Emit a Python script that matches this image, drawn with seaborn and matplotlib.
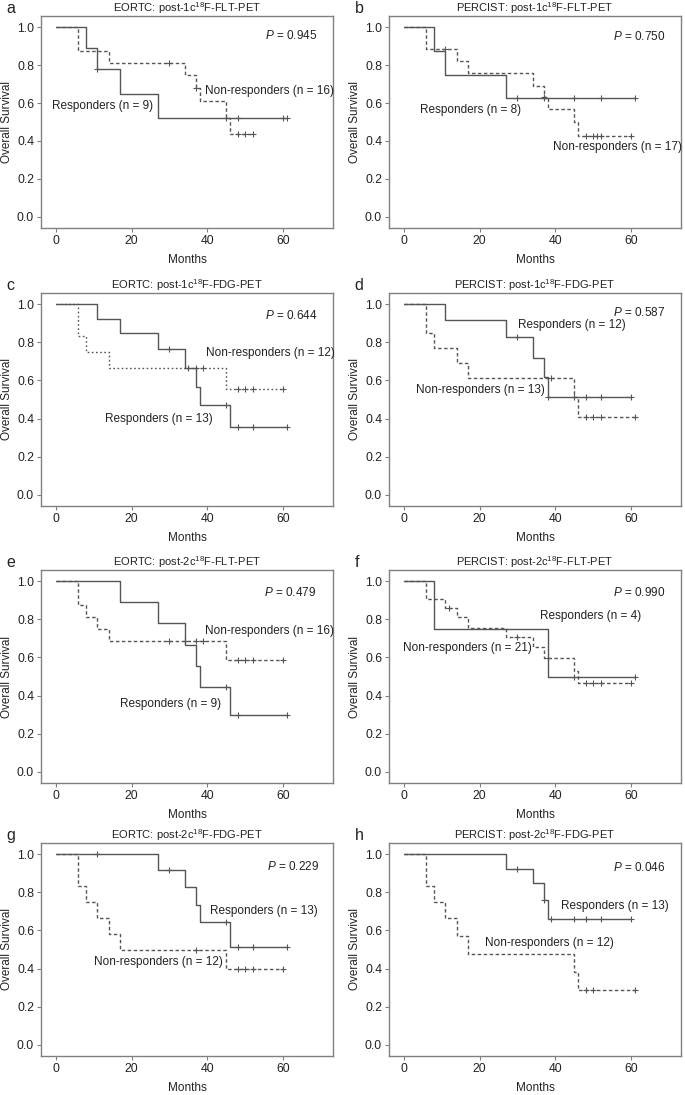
import numpy as np
import seaborn as sns
from matplotlib import pyplot as plt

# Kaplan-Meier step curves: step times, survival after each step, censor times
a_resp_t = [0, 8, 11, 17, 27, 61]
a_resp_s = [1.0, 0.889, 0.778, 0.648, 0.519, 0.519]
a_resp_c = [11, 45, 48, 60, 61]
a_non_t = [0, 6, 14, 34, 37, 38, 45, 46, 52]
a_non_s = [1.0, 0.875, 0.8125, 0.745, 0.677, 0.609, 0.52, 0.435, 0.435]
a_non_c = [30, 37, 48, 50, 52]

b_resp_t = [0, 8, 11, 27, 61]
b_resp_s = [1.0, 0.875, 0.75, 0.625, 0.625]
b_resp_c = [30, 37, 45, 52, 61]
b_non_t = [0, 6, 14, 17, 34, 37, 38, 45, 46, 60]
b_non_s = [1.0, 0.882, 0.82, 0.757, 0.69, 0.63, 0.568, 0.50, 0.426, 0.426]
b_non_c = [11, 37, 48, 50, 51, 52, 60]

c_resp_t = [0, 11, 17, 27, 34, 37, 38, 46, 61]
c_resp_s = [1.0, 0.923, 0.846, 0.762, 0.667, 0.567, 0.472, 0.354, 0.354]
c_resp_c = [30, 45, 48, 52, 61]
c_non_t = [0, 6, 8, 14, 45, 60]
c_non_s = [1.0, 0.833, 0.75, 0.667, 0.556, 0.556]
c_non_c = [35, 37, 39, 48, 50, 52, 60]

d_resp_t = [0, 11, 27, 34, 37, 38, 60]
d_resp_s = [1.0, 0.917, 0.825, 0.72, 0.617, 0.514, 0.514]
d_resp_c = [30, 38, 45, 48, 52, 60]
d_non_t = [0, 6, 8, 14, 17, 45, 46, 61]
d_non_s = [1.0, 0.846, 0.769, 0.692, 0.615, 0.513, 0.41, 0.41]
d_non_c = [39, 48, 50, 52, 61]

e_resp_t = [0, 17, 27, 34, 37, 38, 46, 61]
e_resp_s = [1.0, 0.889, 0.778, 0.667, 0.556, 0.444, 0.296, 0.296]
e_resp_c = [45, 48, 61]
e_non_t = [0, 6, 8, 11, 14, 45, 60]
e_non_s = [1.0, 0.875, 0.8125, 0.75, 0.6875, 0.586, 0.586]
e_non_c = [30, 34, 37, 39, 48, 50, 52, 60]

f_resp_t = [0, 8, 38, 61]
f_resp_s = [1.0, 0.75, 0.5, 0.5]
f_resp_c = [45, 61]
f_non_t = [0, 6, 11, 14, 17, 27, 34, 37, 45, 46, 60]
f_non_s = [1.0, 0.905, 0.857, 0.81, 0.755, 0.705, 0.654, 0.597, 0.53, 0.465, 0.465]
f_non_c = [12, 30, 38, 48, 50, 52, 60]

g_resp_t = [0, 27, 34, 37, 38, 46, 61]
g_resp_s = [1.0, 0.917, 0.825, 0.733, 0.642, 0.513, 0.513]
g_resp_c = [11, 30, 45, 48, 52, 61]
g_non_t = [0, 6, 8, 11, 14, 17, 45, 60]
g_non_s = [1.0, 0.833, 0.75, 0.667, 0.583, 0.50, 0.40, 0.40]
g_non_c = [37, 48, 50, 52, 60]

h_resp_t = [0, 27, 34, 37, 38, 60]
h_resp_s = [1.0, 0.923, 0.846, 0.761, 0.661, 0.661]
h_resp_c = [30, 37, 39, 45, 48, 52, 60]
h_non_t = [0, 6, 8, 11, 14, 17, 45, 46, 61]
h_non_s = [1.0, 0.833, 0.75, 0.667, 0.571, 0.476, 0.381, 0.286, 0.286]
h_non_c = [48, 50, 61]

letters = ["a", "b", "c", "d", "e", "f", "g", "h"]
titles = [
    r"EORTC: post-1c$^{18}$F-FLT-PET",
    r"PERCIST: post-1c$^{18}$F-FLT-PET",
    r"EORTC: post-1c$^{18}$F-FDG-PET",
    r"PERCIST: post-1c$^{18}$F-FDG-PET",
    r"EORTC: post-2c$^{18}$F-FLT-PET",
    r"PERCIST: post-2c$^{18}$F-FLT-PET",
    r"EORTC: post-2c$^{18}$F-FDG-PET",
    r"PERCIST: post-2c$^{18}$F-FDG-PET",
]
p_values = ["0.945", "0.750", "0.644", "0.587", "0.479", "0.990", "0.229", "0.046"]
resp_labels = ["Responders (n = 9)", "Responders (n = 8)", "Responders (n = 13)", "Responders (n = 12)",
               "Responders (n = 9)", "Responders (n = 4)", "Responders (n = 13)", "Responders (n = 13)"]
non_labels = ["Non-responders (n = 16)", "Non-responders (n = 17)", "Non-responders (n = 12)",
              "Non-responders (n = 13)", "Non-responders (n = 16)", "Non-responders (n = 21)",
              "Non-responders (n = 12)", "Non-responders (n = 12)"]

curves = [
    (a_resp_t, a_resp_s, a_resp_c, a_non_t, a_non_s, a_non_c),
    (b_resp_t, b_resp_s, b_resp_c, b_non_t, b_non_s, b_non_c),
    (c_resp_t, c_resp_s, c_resp_c, c_non_t, c_non_s, c_non_c),
    (d_resp_t, d_resp_s, d_resp_c, d_non_t, d_non_s, d_non_c),
    (e_resp_t, e_resp_s, e_resp_c, e_non_t, e_non_s, e_non_c),
    (f_resp_t, f_resp_s, f_resp_c, f_non_t, f_non_s, f_non_c),
    (g_resp_t, g_resp_s, g_resp_c, g_non_t, g_non_s, g_non_c),
    (h_resp_t, h_resp_s, h_resp_c, h_non_t, h_non_s, h_non_c),
]

# label placement (data coords): responders label, non-responders label (left x, centre y)
resp_pos = [(-0.9, 0.586), (4.4, 0.564), (13.0, 0.40), (30.1, 0.89),
            (16.9, 0.358), (36.1, 0.819), (40.8, 0.703), (41.4, 0.728)]
non_pos = [(39.3, 0.661), (39.3, 0.368), (39.7, 0.742), (3.1, 0.549),
           (39.3, 0.74), (-0.2, 0.647), (10.1, 0.436), (21.5, 0.532)]
p_pos = [(69, 0.955), (69, 0.951), (69, 0.94), (69, 0.956),
         (68.8, 0.942), (69, 0.939), (69.5, 0.934), (69, 0.93)]

sns.set_style("ticks")
plt.rcParams["font.family"] = ["Liberation Sans", "DejaVu Sans"]
plt.rcParams["mathtext.fontset"] = "custom"
plt.rcParams["mathtext.rm"] = "Liberation Sans"
plt.rcParams["mathtext.it"] = "Liberation Sans:italic"

line_col = "#555555"
edge_col = "#808080"
text_col = "#222222"
fs = 8.5

W, H = 685, 1095
fig = plt.figure(figsize=(W / 100, H / 100), dpi=100)
col_left = [41, 389]
row_top = [15, 293, 570, 843]
ax_w, ax_h = 292, 213


def censor_y(t, s, c):
    idx = np.searchsorted(np.asarray(t), np.asarray(c), side="right") - 1
    return np.asarray(s)[idx]


for i in range(8):
    r, cidx = divmod(i, 2)
    left = col_left[cidx] / W
    bottom = 1 - (row_top[r] + ax_h) / H
    ax = fig.add_axes([left, bottom, ax_w / W, (ax_h - (1 if r == 0 else 0)) / H])

    rt, rs, rc, nt, ns, nc = curves[i]
    dash = (0, (1.2, 1.8)) if i == 2 else (0, (2.5, 1.8))
    sns.lineplot(x=rt, y=rs, ax=ax, drawstyle="steps-post", estimator=None, sort=False,
                 color=line_col, linewidth=1.0)
    sns.lineplot(x=nt, y=ns, ax=ax, drawstyle="steps-post", estimator=None, sort=False,
                 color=line_col, linewidth=1.0, linestyle=dash)
    sns.scatterplot(x=rc, y=censor_y(rt, rs, rc), ax=ax, marker="+", s=18,
                    color=line_col, linewidth=0.8, zorder=3)
    sns.scatterplot(x=nc, y=censor_y(nt, ns, nc), ax=ax, marker="+", s=18,
                    color=line_col, linewidth=0.8, zorder=3)

    ax.set_xlim(-3.9, 73.2)
    ax.set_ylim(-0.058, 1.058)
    ax.set_xticks([0, 20, 40, 60])
    ax.set_yticks(np.arange(0, 1.01, 0.2))
    ax.set_yticklabels([f"{v:.1f}" for v in np.arange(0, 1.01, 0.2)])
    ax.tick_params(direction="out", length=3, width=0.8, color=edge_col,
                   labelsize=8.8, labelcolor=text_col, pad=2)
    for sp in ax.spines.values():
        sp.set_color(edge_col)
        sp.set_linewidth(1.0)
    ax.set_xlabel("Months", fontsize=fs, color=text_col, labelpad=5)
    ax.set_ylabel("Overall Survival", fontsize=fs, color=text_col, labelpad=3)
    ax.set_title(titles[i], fontsize=8.0, color=text_col, pad=1)
    ax.text(-0.118, 1.0, letters[i], transform=ax.transAxes, fontsize=11.5,
            color=text_col, ha="left", va="bottom")

    ax.text(*p_pos[i], r"$P$ = " + p_values[i], fontsize=fs, color=text_col,
            ha="right", va="center")
    ax.text(*resp_pos[i], resp_labels[i], fontsize=fs, color=text_col,
            ha="left", va="center")
    ax.text(*non_pos[i], non_labels[i], fontsize=fs, color=text_col,
            ha="left", va="center")

fig.savefig("out.png", dpi=100)
